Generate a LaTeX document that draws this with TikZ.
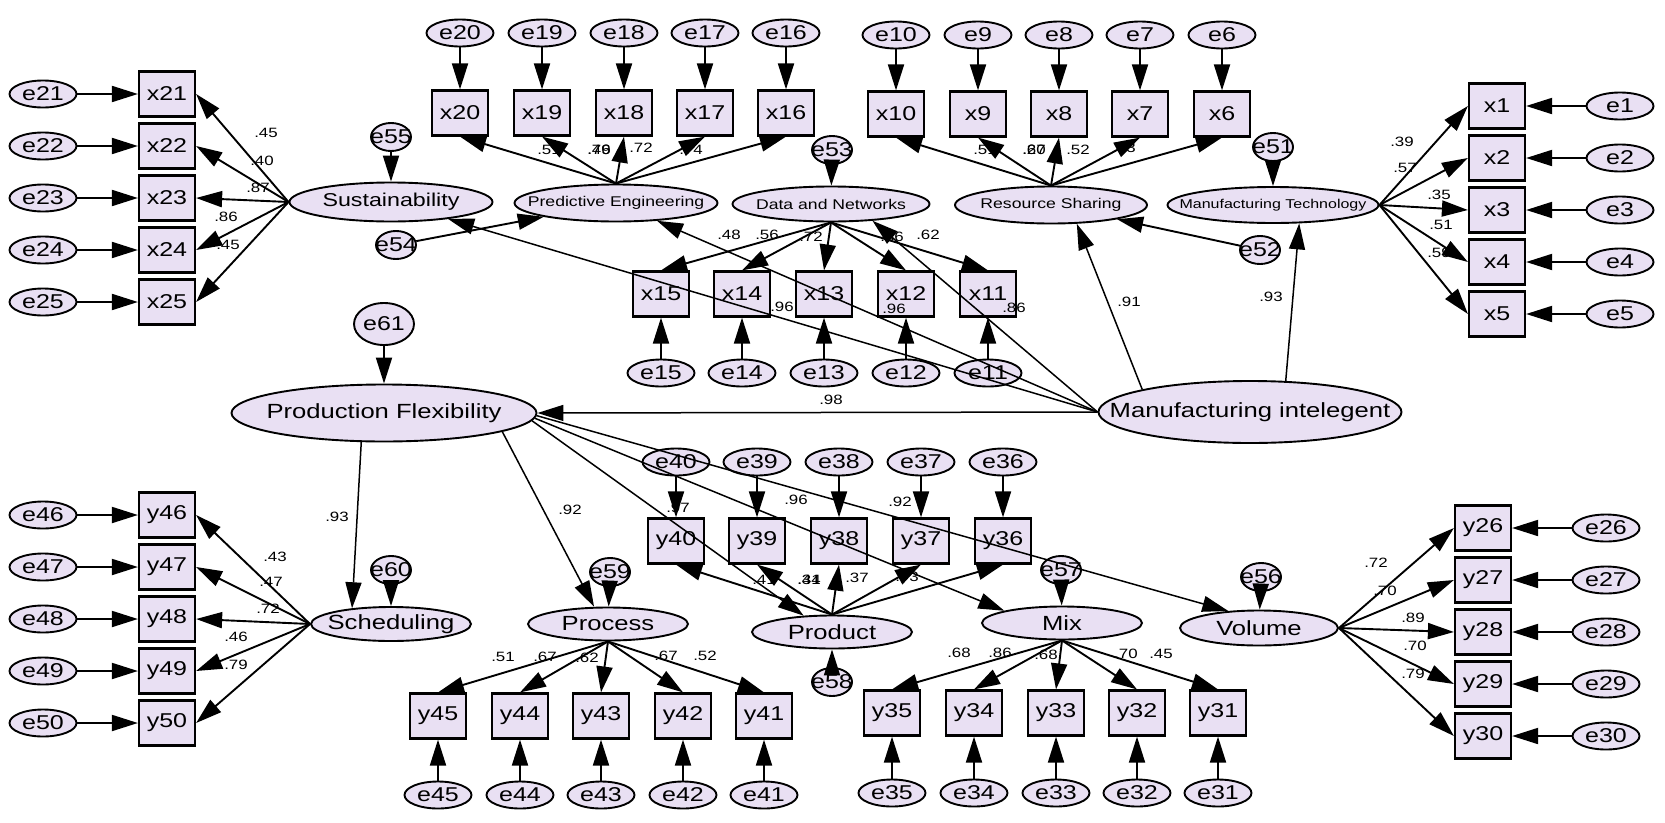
\documentclass[tikz,border=0pt]{standalone}
\usepackage{fontspec}
\setmainfont{Liberation Sans}[FakeStretch=1.25]
\usepackage{tikz}
\usetikzlibrary{arrows.meta, shapes.geometric}
\definecolor{boxfill}{RGB}{233,224,243}
\newcommand\obsfont{\fontsize{20}{22}\selectfont}
\newcommand\latfont{\fontsize{20.5}{23}\selectfont}
\newcommand\susfont{\fontsize{18.6}{21}\selectfont}
\newcommand\smlfont{\fontsize{14.1}{16}\selectfont}
\newcommand\mtfont{\fontsize{12.8}{15}\selectfont}
\newcommand\coeffont{\fontsize{13.5}{15}\selectfont}
\tikzset{>={Triangle[length=26pt,width=16pt]}}
\tikzset{
  obs/.style={draw, line width=2.2pt, fill=boxfill, minimum width=56pt,
    minimum height=45pt, inner sep=0pt, font=\obsfont},
  err/.style={ellipse, draw, line width=1.9pt, fill=boxfill, minimum width=67pt,
    minimum height=27pt, inner sep=0pt, font=\obsfont},
  resid/.style={ellipse, draw, line width=1.9pt, fill=boxfill, minimum width=40pt,
    minimum height=28pt, inner sep=0pt, label={[font=\obsfont]center:#1}},
  lat/.style 2 args={ellipse, draw, line width=1.9pt, fill=boxfill, inner sep=0pt,
    label={[font=#1]center:#2}},
  coef/.style={font=\coeffont, inner sep=0pt},
  regr/.style={line width=1.5pt}
}
\begin{document}
\begin{tikzpicture}[x=1pt, y=-1pt, line width=1.9pt]
  \useasboundingbox (0,0) rectangle (1665,822);
  % latent variables
  \node[lat={\susfont}{Sustainability}, minimum width=203pt, minimum height=39pt] (Sus) at (391,202) {};
  \node[lat={\smlfont}{Predictive Engineering}, minimum width=203pt, minimum height=37pt] (PE) at (616,203) {};
  \node[lat={\smlfont}{Data and Networks}, minimum width=197pt, minimum height=35pt] (DN) at (831,204) {};
  \node[lat={\smlfont}{Resource Sharing}, minimum width=192pt, minimum height=37pt] (RS) at (1051,205) {};
  \node[lat={\mtfont}{Manufacturing Technology}, minimum width=211pt, minimum height=36pt] (MT) at (1273,205) {};
  \node[lat={\latfont}{Manufacturing intelegent}, minimum width=303pt, minimum height=62pt] (MI) at (1250,412) {};
  \node[lat={\latfont}{Production Flexibility}, minimum width=305pt, minimum height=57pt] (PF) at (384,413) {};
  \node[lat={\latfont}{Scheduling}, minimum width=160pt, minimum height=34pt] (Sched) at (391,624) {};
  \node[lat={\latfont}{Process}, minimum width=160pt, minimum height=33pt] (Proc) at (608,624) {};
  \node[lat={\latfont}{Product}, minimum width=160pt, minimum height=33pt] (Prod) at (832,632) {};
  \node[lat={\latfont}{Mix}, minimum width=160pt, minimum height=33pt] (Mix) at (1062,623) {};
  \node[lat={\latfont}{Volume}, minimum width=158pt, minimum height=35pt] (Vol) at (1259,628) {};

  % residuals
  \node[resid=e55] (e55) at (391,137) {};
  \node[resid=e54] (e54) at (396,245) {};
  \node[resid=e53] (e53) at (832,150) {};
  \node[resid=e51] (e51) at (1273,147) {};
  \node[resid=e52] (e52) at (1260,250) {};
  \node[resid=e61, minimum width=60pt, minimum height=42pt] (e61) at (384,324) {};
  \node[resid=e60] (e60) at (391,570) {};
  \node[resid=e59] (e59) at (610,572) {};
  \node[resid=e58] (e58) at (832,682) {};
  \node[resid=e57] (e57) at (1061,570) {};
  \node[resid=e56] (e56) at (1261,577) {};

  % indicators and their errors
  \foreach \i/\y in {21/94,22/146,23/198,24/250,25/302} {
    \node[obs] (x\i) at (167,\y) {x\i};
    \node[err] (e\i) at (43,\y) {e\i};
  }
  \foreach \i/\x in {20/460,19/542,18/624,17/705,16/786} {
    \node[obs] (x\i) at (\x,113) {x\i};
    \node[err] (e\i) at (\x,33) {e\i};
  }
  \foreach \i/\x in {10/896,9/978,8/1059,7/1140,6/1222} {
    \node[obs] (x\i) at (\x,114) {x\i};
    \node[err] (e\i) at (\x,35) {e\i};
  }
  \foreach \i/\x in {15/661,14/742,13/824,12/906,11/988} {
    \node[obs] (x\i) at (\x,294) {x\i};
    \node[err] (e\i) at (\x,373) {e\i};
  }
  \foreach \i/\y in {1/106,2/158,3/210,4/262,5/314} {
    \node[obs] (x\i) at (1497,\y) {x\i};
    \node[err] (e\i) at (1620,\y) {e\i};
  }
  \foreach \i/\y in {46/515,47/567,48/619,49/671,50/723} {
    \node[obs] (y\i) at (167,\y) {y\i};
    \node[err] (e\i) at (43,\y) {e\i};
  }
  \foreach \i/\x in {40/676,39/757,38/839,37/921,36/1003} {
    \node[obs] (y\i) at (\x,541) {y\i};
    \node[err] (e\i) at (\x,462) {e\i};
  }
  \foreach \i/\x in {45/438,44/520,43/601,42/683,41/764} {
    \node[obs] (y\i) at (\x,716) {y\i};
    \node[err] (e\i) at (\x,795) {e\i};
  }
  \foreach \i/\x in {35/892,34/974,33/1056,32/1137,31/1218} {
    \node[obs] (y\i) at (\x,713) {y\i};
    \node[err] (e\i) at (\x,793) {e\i};
  }
  \foreach \i/\y in {26/528,27/580,28/632,29/684,30/736} {
    \node[obs] (y\i) at (1483,\y) {y\i};
    \node[err] (e\i) at (1606,\y) {e\i};
  }

  % estimates
  \foreach \p/\t [count=\k] in {
    {266,133}/.45, {262,161}/.40, {258,188}/.87, {226,217}/.86, {228,245}/.45,
    {549,150}/.51, {599,150}/.79, {599,150}/.46, {641,148}/.72, {691,150}/.74,
    {985,150}/.51, {1034,150}/.27, {1034,150}/.60, {1078,150}/.52, {1124,148}/.73,
    {729,235}/.48, {767,235}/.56, {811,237}/.72, {892,237}/.86, {928,235}/.62,
    {1402,142}/.39, {1405,168}/.57, {1439,195}/.35, {1441,225}/.51, {1439,253}/.59,
    {275,557}/.43, {271,582}/.47, {268,609}/.72, {236,637}/.46, {236,665}/.79,
    {503,657}/.51, {545,657}/.67, {587,658}/.62, {666,656}/.67, {705,656}/.52,
    {764,580}/.41, {809,580}/.34, {809,580}/.41, {857,578}/.37, {907,577}/.73,
    {959,653}/.68, {1000,653}/.86, {1046,655}/.68, {1126,654}/.70, {1161,654}/.45,
    {1376,563}/.72, {1385,591}/.70, {1413,618}/.89, {1415,646}/.70, {1413,674}/.79,
    {831,400}/.98, {782,307}/.96, {894,309}/.96, {1014,308}/.86, {1129,302}/.91,
    {1271,297}/.93, {337,517}/.93, {570,510}/.92, {678,508}/.97, {796,500}/.96,
    {900,502}/.92}
    \node[coef] (c\k) at (\p) {\t};

  % loadings
  \foreach \i in {21,...,25} {
    \draw[->] (e\i) -- (x\i);
    \draw[->] (Sus.west) -- (x\i.east);
  }
  \foreach \i in {16,...,20} {
    \draw[->] (e\i) -- (x\i);
    \draw[->] (PE.north) -- (x\i.south);
  }
  \foreach \i in {6,...,10} {
    \draw[->] (e\i) -- (x\i);
    \draw[->] (RS.north) -- (x\i.south);
  }
  \foreach \i in {11,...,15} {
    \draw[->] (e\i) -- (x\i);
    \draw[->] (DN.south) -- (x\i.north);
  }
  \foreach \i in {1,...,5} {
    \draw[->] (e\i) -- (x\i);
    \draw[->] (MT.east) -- (x\i.west);
  }
  \foreach \i in {46,...,50} {
    \draw[->] (e\i) -- (y\i);
    \draw[->] (Sched.west) -- (y\i.east);
  }
  \foreach \i in {36,...,40} {
    \draw[->] (e\i) -- (y\i);
    \draw[->] (Prod.north) -- (y\i.south);
  }
  \foreach \i in {41,...,45} {
    \draw[->] (e\i) -- (y\i);
    \draw[->] (Proc.south) -- (y\i.north);
  }
  \foreach \i in {31,...,35} {
    \draw[->] (e\i) -- (y\i);
    \draw[->] (Mix.south) -- (y\i.north);
  }
  \foreach \i in {26,...,30} {
    \draw[->] (e\i) -- (y\i);
    \draw[->] (Vol.east) -- (y\i.west);
  }
  \foreach \e/\l in {e55/Sus,e54/PE,e53/DN,e51/MT,e52/RS,e61/PF,e60/Sched,e59/Proc,e58/Prod,e57/Mix,e56/Vol}
    \draw[->] (\e) -- (\l);

  % structural paths
  \draw[->, regr] (MI.west) -- (PF.east);
  \draw[->, regr] (MI.west) -- (Sus);
  \draw[->, regr] (MI.west) -- (PE);
  \draw[->, regr] (MI.west) -- (DN.-22);
  \draw[->, regr] (MI.north west) -- (RS.-36);
  \draw[->, regr] (MI.41) -- (MT.-35);
  \draw[->, regr] (PF.-128) -- (Sched.158);
  \draw[->, regr] (PF.-9) -- (Proc.129);
  \draw[->, regr] (PF.-3) -- (Prod.150);
  \draw[->, regr] (PF.-2) -- (Mix.168);
  \draw[->, regr] (PF.-1) -- (Vol.151);
\end{tikzpicture}
\end{document}
